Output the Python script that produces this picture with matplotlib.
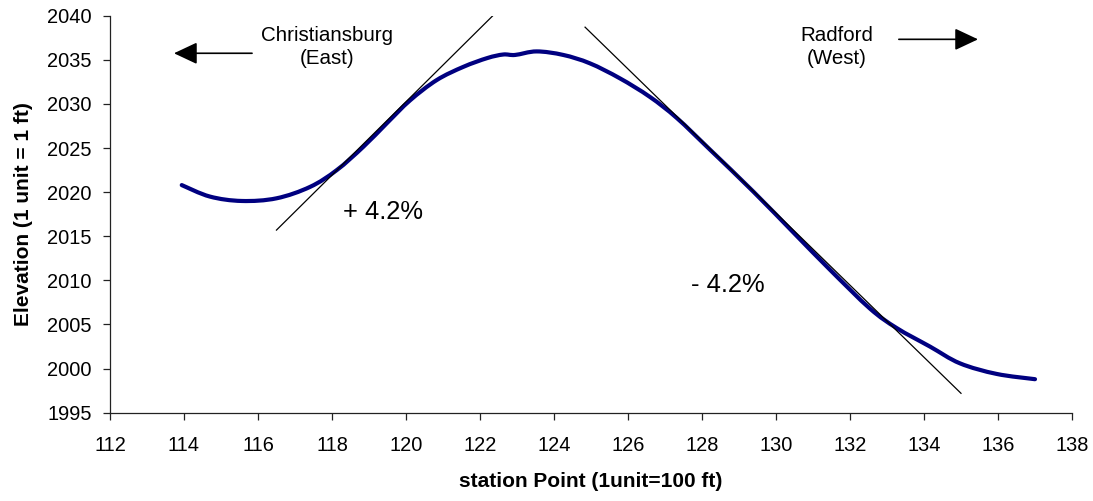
import numpy as np
import matplotlib
matplotlib.use("Agg")
import matplotlib.pyplot as plt
from matplotlib.path import Path
from matplotlib.patches import PathPatch

# ── data ──────────────────────────────────────────────────────
station = [113.94, 114.7, 115.56, 116.5, 117.41, 118.13, 118.85, 119.48,
           120.11, 120.83, 121.55, 122.2, 122.63, 122.95, 123.53, 124.25,
           124.97, 125.78, 126.59, 127.32, 128.22, 129.39, 130.5, 131.46,
           132.54, 133.26, 134.16, 134.97, 135.96, 137.0]
elevation = [2020.8, 2019.5, 2019.0, 2019.3, 2020.6, 2022.5, 2025.15, 2027.8,
             2030.4, 2032.7, 2034.2, 2035.2, 2035.6, 2035.55, 2035.95, 2035.55,
             2034.6, 2032.9, 2030.8, 2028.4, 2024.8, 2020.05, 2015.3, 2011.2,
             2006.8, 2004.6, 2002.5, 2000.6, 1999.4, 1998.8]

# tangent lines (grade +4.2% / -4.2%)
up_x = [116.5, 122.42]
up_y = [2015.7, 2040.3]
down_x = [124.84, 135.0]
down_y = [2038.7, 1997.2]

x_ticks = list(range(112, 139, 2))
y_ticks = list(range(1995, 2041, 5))


def smooth_path(xs, ys):
    # Excel-style "smoothed line": cubic Bezier segments through every point
    p = np.column_stack([xs, ys])
    verts = [p[0]]
    codes = [Path.MOVETO]
    for i in range(len(p) - 1):
        p0 = p[i - 1] if i > 0 else p[i]
        p3 = p[i + 2] if i + 2 < len(p) else p[i + 1]
        c1 = p[i] + (p[i + 1] - p0) / 6.0
        c2 = p[i + 1] - (p3 - p[i]) / 6.0
        verts += [c1, c2, p[i + 1]]
        codes += [Path.CURVE4] * 3
    return Path(verts, codes)


plt.rcParams["font.family"] = ["Liberation Sans", "DejaVu Sans"]

fig = plt.figure(figsize=(10.93, 5.01), dpi=100)
ax = fig.add_axes([0.1006, 0.1762, 0.8802, 0.7925])

ax.add_patch(PathPatch(smooth_path(station, elevation), facecolor="none",
                       edgecolor="#000080", linewidth=3.0,
                       capstyle="round", joinstyle="round", zorder=2))
ax.plot(up_x, up_y, color="black", linewidth=0.9, zorder=3)
ax.plot(down_x, down_y, color="black", linewidth=0.9, zorder=3)

ax.set_xlim(112, 138)
ax.set_ylim(1995, 2040)
ax.set_xticks(x_ticks)
ax.set_yticks(y_ticks)

for side in ("top", "right"):
    ax.spines[side].set_visible(False)
for side in ("left", "bottom"):
    ax.spines[side].set_linewidth(0.9)
    ax.spines[side].set_color("#222222")

ax.tick_params(axis="both", direction="out", length=5, width=0.9,
               labelsize=14.4, color="#222222")
ax.tick_params(axis="x", pad=12)
ax.tick_params(axis="y", pad=8)

ax.set_xlabel("station Point (1unit=100 ft)", fontsize=15, fontweight="bold",
              labelpad=12)
ax.set_ylabel("Elevation (1 unit = 1 ft)", fontsize=15, fontweight="bold",
              labelpad=10)

# ── annotations ───────────────────────────────────────────────
ax.text(117.86, 2036.45, "Christiansburg\n(East)", ha="center", va="center",
        fontsize=14.8, linespacing=1.33)
ax.text(131.64, 2036.45, "Radford\n(West)", ha="center", va="center",
        fontsize=14.8, linespacing=1.33)

arrow = dict(arrowstyle="-|>,head_length=1.0,head_width=0.47",
             color="black", linewidth=1.2, mutation_scale=14.4,
             shrinkA=0, shrinkB=0)
ax.annotate("", xy=(113.73, 2035.74), xytext=(115.84, 2035.74),
            arrowprops=arrow)
ax.annotate("", xy=(135.46, 2037.32), xytext=(133.32, 2037.32),
            arrowprops=arrow)

ax.text(119.39, 2017.8, "+ 4.2%", ha="center", va="center", fontsize=18.4)
ax.text(128.71, 2009.5, "- 4.2%", ha="center", va="center", fontsize=18.4)

fig.savefig("out.png", dpi=100, facecolor="white")
